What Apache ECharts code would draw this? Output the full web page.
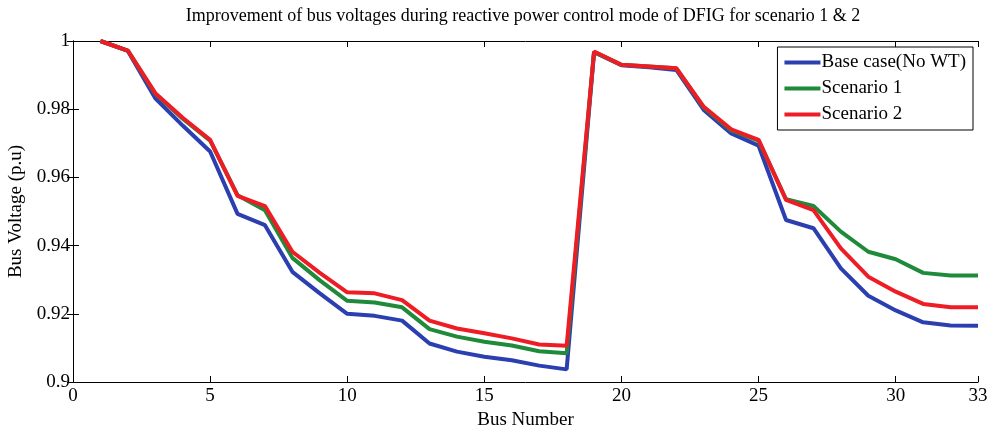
<!DOCTYPE html>
<html>
<head>
<meta charset="utf-8">
<script src="https://cdn.jsdelivr.net/npm/echarts@6/dist/echarts.min.js"></script>
<style>html,body{margin:0;padding:0;background:#fff}#c{width:992px;height:435px}</style>
</head>
<body>
<div id="c"></div>
<script>
var busNumbers = [1,2,3,4,5,6,7,8,9,10,11,12,13,14,15,16,17,18,19,20,21,22,23,24,25,26,27,28,29,30,31,32,33];
var baseCase = [1.0,0.9971,0.9832,0.9752,0.9676,0.9493,0.9460,0.9323,0.9260,0.9200,0.9194,0.9180,0.9113,0.9089,0.9074,0.9064,0.9048,0.9037,0.9967,0.9929,0.9923,0.9915,0.9798,0.9729,0.9693,0.9475,0.9451,0.9333,0.9253,0.9210,0.9175,0.9166,0.9165];
var scenario1 = [1.0,0.9972,0.9845,0.9772,0.9708,0.9548,0.9504,0.9364,0.9298,0.9238,0.9233,0.9219,0.9155,0.9133,0.9118,0.9107,0.9090,0.9084,0.9968,0.9930,0.9925,0.9920,0.9805,0.9738,0.9708,0.9536,0.9516,0.9441,0.9382,0.9360,0.9320,0.9312,0.9312];
var scenario2 = [1.0,0.9972,0.9847,0.9775,0.9710,0.9546,0.9516,0.9382,0.9320,0.9263,0.9260,0.9240,0.9180,0.9157,0.9143,0.9128,0.9110,0.9106,0.9969,0.9930,0.9925,0.9920,0.9807,0.9741,0.9710,0.9534,0.9504,0.9392,0.9309,0.9265,0.9229,0.9219,0.9219];
var seriesNames = ['Base case(No WT)','Scenario 1','Scenario 2'];
var colors = ['#2b3fb0','#1f8a3a','#ee1d25'];
var titleText = 'Improvement of bus voltages during reactive power control mode of DFIG for scenario 1 & 2';
var xName = 'Bus Number';
var yName = 'Bus Voltage (p.u)';

function pairs(arr){ return busNumbers.map(function(b,i){ return [b, arr[i]]; }); }

var font = 'Liberation Serif';
var chart = echarts.init(document.getElementById('c'));
var axisLine = {show:true, lineStyle:{color:'#000', width:1}};
chart.setOption({
  animation:false,
  backgroundColor:'#fff',
  title:{text:titleText, left:518, top:2, textAlign:'center',
    textStyle:{fontFamily:font, fontSize:18, fontWeight:'normal', color:'#000'}},
  grid:{left:73, right:14, top:41, bottom:53, containLabel:false, outerBoundsMode:'none'},
  legend:{
    right:19, top:47, orient:'vertical', itemGap:7,
    itemWidth:36, itemHeight:4,
    borderColor:'#000', borderWidth:1, backgroundColor:'#fff',
    padding:[6,7,6,7],
    icon:'rect',
    textStyle:{fontFamily:font, fontSize:19, color:'#000', padding:[0,0,0,-4]},
    data:seriesNames
  },
  xAxis:[{
    type:'value', min:0, max:33, interval:5,
    name:xName, nameLocation:'middle', nameGap:29,
    nameTextStyle:{fontFamily:font, fontSize:19, color:'#000'},
    axisLine:axisLine,
    axisTick:{show:true, inside:true, length:6, lineStyle:{color:'#000'}},
    axisLabel:{fontFamily:font, fontSize:19, color:'#000', margin:5, showMaxLabel:true},
    splitLine:{show:false}
  },{
    type:'value', min:0, max:33, interval:5, position:'top',
    axisLine:axisLine,
    axisTick:{show:true, inside:true, length:6, lineStyle:{color:'#000'}},
    axisLabel:{show:false}, splitLine:{show:false}
  }],
  yAxis:[{
    type:'value', min:0.9, max:1, interval:0.02,
    name:yName, nameLocation:'middle', nameGap:44,
    nameTextStyle:{fontFamily:font, fontSize:19, color:'#000'},
    axisLine:axisLine,
    axisTick:{show:true, inside:true, length:6, lineStyle:{color:'#000'}},
    axisLabel:{fontFamily:font, fontSize:19, color:'#000', margin:3},
    splitLine:{show:false}
  },{
    type:'value', min:0.9, max:1, interval:0.02, position:'right',
    axisLine:axisLine,
    axisTick:{show:true, inside:true, length:6, lineStyle:{color:'#000'}},
    axisLabel:{show:false}, splitLine:{show:false}
  }],
  series:[baseCase, scenario1, scenario2].map(function(arr,i){
    return {name:seriesNames[i], type:'line', data:pairs(arr), showSymbol:false,
      symbol:'none', lineStyle:{color:colors[i], width:4}, itemStyle:{color:colors[i]},
      z:2+i};
  })
});
</script>
</body>
</html>
